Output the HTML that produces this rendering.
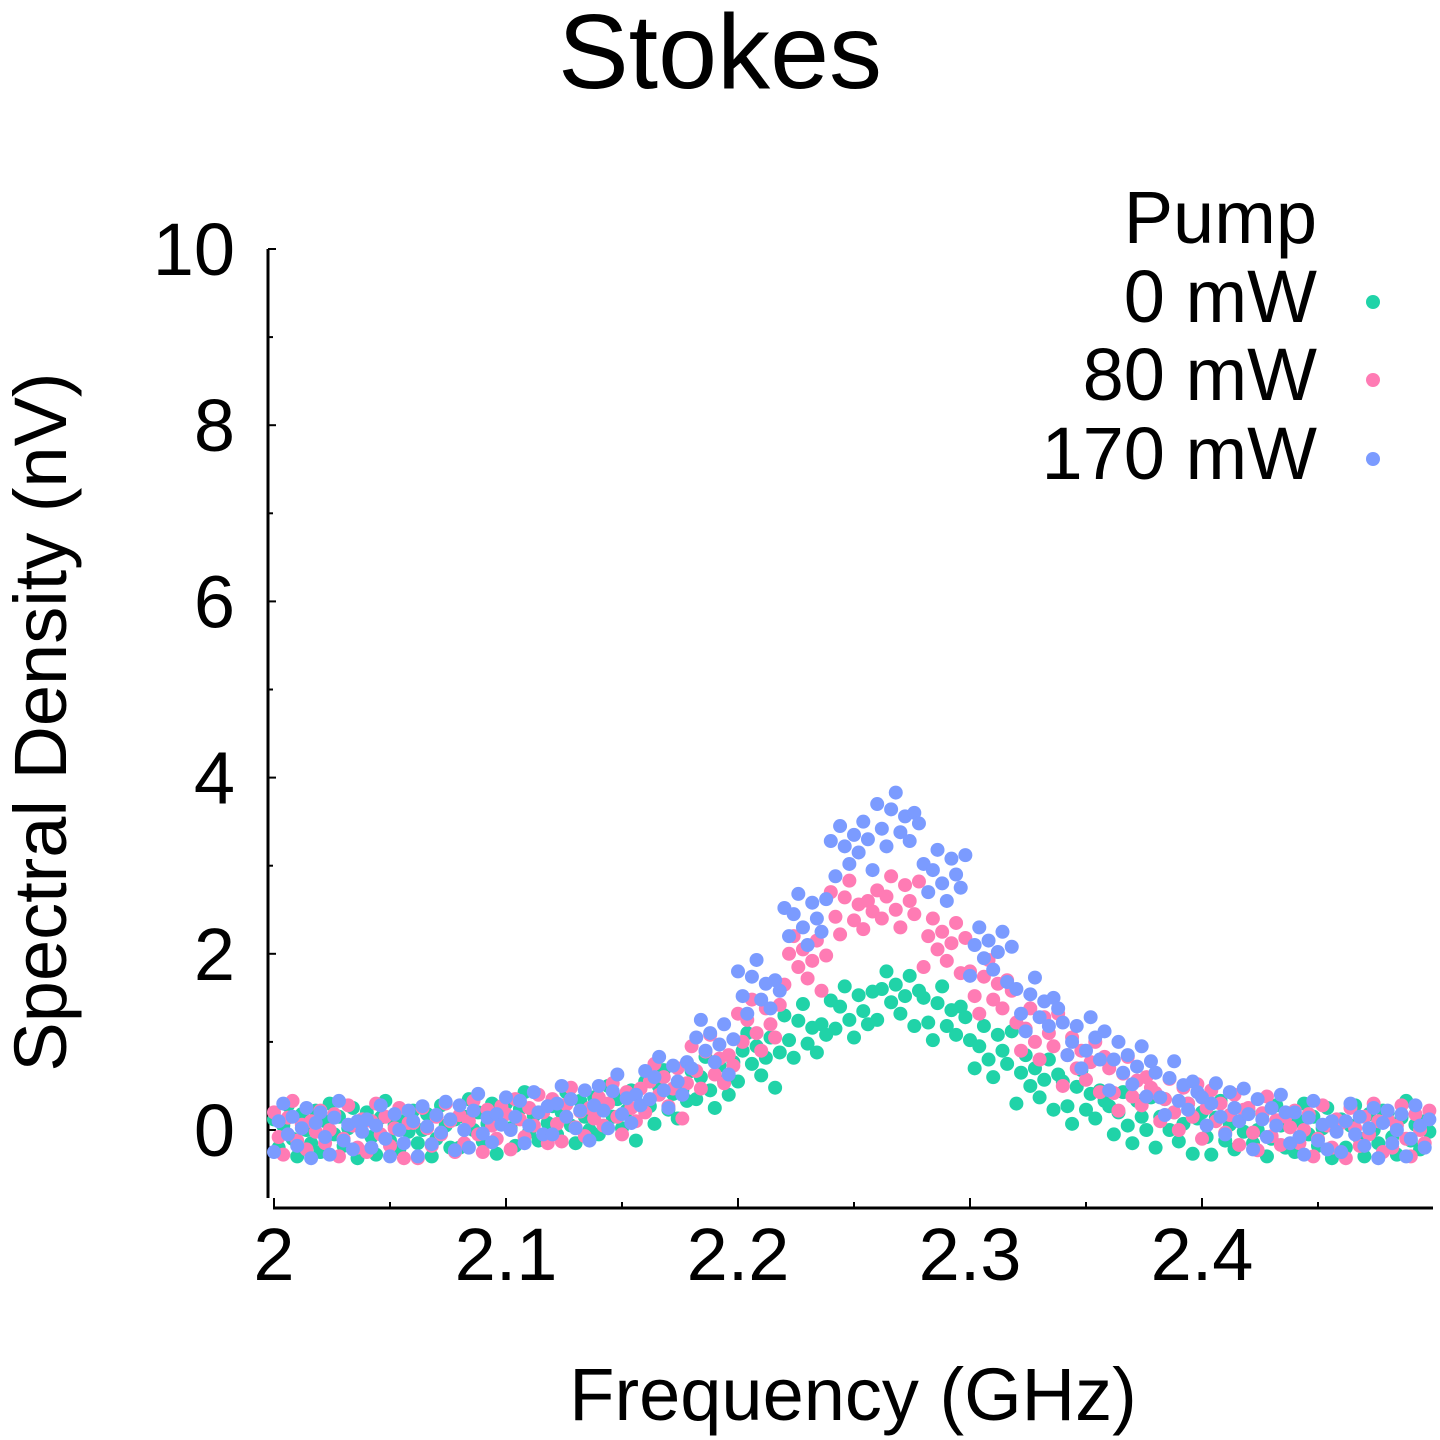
<!DOCTYPE html>
<html><head><meta charset="utf-8"><style>
html,body{margin:0;padding:0;background:#fff;}
svg{display:block;font-family:"Liberation Sans",sans-serif;}
</style></head><body>
<svg id="chart" width="1440" height="1440" viewBox="0 0 1440 1440" xmlns="http://www.w3.org/2000/svg">
<text x="720" y="88" font-size="106" text-anchor="middle">Stokes</text>
<g id="axes"></g>
<g id="points"></g>
<text transform="translate(66,722) rotate(-90)" font-size="74" text-anchor="middle">Spectral Density (nV)</text>
<text x="853" y="1420" font-size="74" text-anchor="middle">Frequency (GHz)</text>
<g>
<text x="1317" y="243" font-size="74" text-anchor="end">Pump</text>
<text x="1317" y="322" font-size="74" text-anchor="end">0 mW</text>
<circle cx="1373" cy="302" r="7" fill="#20d3a8"/>
<text x="1317" y="400" font-size="74" text-anchor="end">80 mW</text>
<circle cx="1373" cy="380" r="7" fill="#ff7bb4"/>
<text x="1317" y="479" font-size="74" text-anchor="end">170 mW</text>
<circle cx="1373" cy="459" r="7" fill="#7b9bff"/>
</g>
</svg>
<script>
const freqStart = 2.0;
const freqStep = 0.002;
const xTicks = [2, 2.1, 2.2, 2.3, 2.4];
const xTickLabels = ["2", "2.1", "2.2", "2.3", "2.4"];
const yTicks = [0, 2, 4, 6, 8, 10];
const yTickLabels = ["0", "2", "4", "6", "8", "10"];
const series0mW = [
0.12,-0.2,0.05,0.28,-0.1,-0.3,0.18,0.0,-0.15,0.22,
-0.25,0.1,0.3,-0.05,0.15,-0.18,0.02,0.25,-0.32,0.08,
0.2,-0.08,-0.28,0.14,0.33,-0.12,0.06,-0.22,0.1,-0.02,
0.22,-0.15,0.0,0.18,-0.3,-0.1,0.28,0.05,-0.2,0.12,
-0.2,0.15,0.35,0.0,0.2,-0.13,0.07,0.3,-0.27,0.13,
0.3,0.02,-0.18,0.24,0.43,-0.02,0.16,-0.12,0.2,0.08,
0.27,-0.05,0.2,0.43,0.05,-0.15,0.33,0.15,0.0,0.37,
-0.05,0.3,0.5,0.15,0.35,0.02,0.22,0.45,-0.12,0.28,
0.55,0.27,0.07,0.49,0.68,0.23,0.41,0.13,0.45,0.33,
0.67,0.35,0.6,0.83,0.45,0.25,0.73,0.55,0.4,0.77,
0.55,0.9,1.1,0.75,0.95,0.62,0.82,1.05,0.48,0.88,
1.3,1.02,0.82,1.24,1.43,0.98,1.16,0.88,1.2,1.08,
1.47,1.15,1.4,1.63,1.25,1.05,1.53,1.35,1.2,1.57,
1.25,1.6,1.8,1.45,1.65,1.32,1.52,1.75,1.18,1.58,
1.5,1.22,1.02,1.44,1.63,1.18,1.36,1.08,1.4,1.28,
1.02,0.7,0.95,1.18,0.8,0.6,1.08,0.9,0.75,1.12,
0.3,0.65,0.85,0.5,0.7,0.37,0.57,0.8,0.23,0.63,
0.55,0.27,0.07,0.49,0.68,0.23,0.41,0.13,0.45,0.33,
0.27,-0.05,0.2,0.43,0.05,-0.15,0.33,0.15,0.0,0.37,
-0.2,0.15,0.35,0.0,0.2,-0.13,0.07,0.3,-0.27,0.13,
0.2,-0.08,-0.28,0.14,0.33,-0.12,0.06,-0.22,0.1,-0.02,
0.22,-0.15,0.0,0.18,-0.3,-0.1,0.28,0.05,-0.2,0.12,
-0.25,0.1,0.3,-0.05,0.15,-0.18,0.02,0.25,-0.32,0.08,
0.12,-0.2,0.05,0.28,-0.1,-0.3,0.18,0.0,-0.15,0.22,
0.2,-0.08,-0.28,0.14,0.33,-0.12,0.06,-0.22,0.1,-0.02];
const series80mW = [
0.2,-0.08,-0.28,0.14,0.33,-0.12,0.06,-0.22,0.1,-0.02,
0.22,-0.15,0.0,0.18,-0.3,-0.1,0.28,0.05,-0.2,0.12,
-0.25,0.1,0.3,-0.05,0.15,-0.18,0.02,0.25,-0.32,0.08,
0.08,-0.32,0.25,0.02,-0.18,0.15,-0.05,0.3,0.1,-0.25,
0.17,-0.15,0.1,0.33,-0.05,-0.25,0.23,0.05,-0.1,0.27,
0.18,-0.22,0.35,0.12,-0.08,0.25,0.05,0.4,0.2,-0.15,
0.35,0.07,-0.13,0.29,0.48,0.03,0.21,-0.07,0.25,0.13,
0.37,0.05,0.3,0.53,0.15,-0.05,0.43,0.25,0.1,0.47,
0.2,0.55,0.75,0.4,0.6,0.27,0.47,0.7,0.13,0.53,
0.95,0.67,0.47,0.89,1.08,0.63,0.81,0.53,0.85,0.73,
1.32,1.0,1.25,1.48,1.1,0.9,1.38,1.2,1.05,1.42,
1.65,2.0,2.2,1.85,2.05,1.72,1.92,2.15,1.58,1.98,
2.7,2.42,2.22,2.64,2.83,2.38,2.56,2.28,2.6,2.48,
2.72,2.4,2.65,2.88,2.5,2.3,2.78,2.6,2.45,2.82,
1.85,2.2,2.4,2.05,2.25,1.92,2.12,2.35,1.78,2.18,
1.8,1.52,1.32,1.74,1.93,1.48,1.66,1.38,1.7,1.58,
1.22,0.9,1.15,1.38,1.0,0.8,1.28,1.1,0.95,1.32,
0.5,0.85,1.05,0.7,0.9,0.57,0.77,1.0,0.43,0.83,
0.7,0.42,0.22,0.64,0.83,0.38,0.56,0.28,0.6,0.48,
0.42,0.1,0.35,0.58,0.2,0.0,0.48,0.3,0.15,0.52,
-0.1,0.25,0.45,0.1,0.3,-0.03,0.17,0.4,-0.17,0.23,
0.25,-0.03,-0.23,0.19,0.38,-0.07,0.11,-0.17,0.15,0.03,
0.22,-0.15,0.0,0.18,-0.3,-0.1,0.28,0.05,-0.2,0.12,
0.08,-0.32,0.25,0.02,-0.18,0.15,-0.05,0.3,0.1,-0.25,
0.12,-0.2,0.05,0.28,-0.1,-0.3,0.18,0.0,-0.15,0.22];
const series170mW = [
-0.25,0.1,0.3,-0.05,0.15,-0.18,0.02,0.25,-0.32,0.08,
0.2,-0.08,-0.28,0.14,0.33,-0.12,0.06,-0.22,0.1,-0.02,
0.12,-0.2,0.05,0.28,-0.1,-0.3,0.18,0.0,-0.15,0.22,
0.1,-0.3,0.27,0.04,-0.16,0.17,-0.03,0.32,0.12,-0.23,
0.28,0.0,-0.2,0.22,0.41,-0.04,0.14,-0.14,0.18,0.06,
0.37,0.0,0.15,0.33,-0.15,0.05,0.43,0.2,-0.05,0.27,
-0.05,0.3,0.5,0.15,0.35,0.02,0.22,0.45,-0.12,0.28,
0.5,0.22,0.02,0.44,0.63,0.18,0.36,0.08,0.4,0.28,
0.67,0.35,0.6,0.83,0.45,0.25,0.73,0.55,0.4,0.77,
0.7,1.05,1.25,0.9,1.1,0.77,0.97,1.2,0.63,1.03,
1.8,1.52,1.32,1.74,1.93,1.48,1.66,1.38,1.7,1.58,
2.52,2.2,2.45,2.68,2.3,2.1,2.58,2.4,2.25,2.62,
3.28,2.88,3.45,3.22,3.02,3.35,3.15,3.5,3.3,2.95,
3.7,3.42,3.22,3.64,3.83,3.38,3.56,3.28,3.6,3.48,
3.02,2.7,2.95,3.18,2.8,2.6,3.08,2.9,2.75,3.12,
1.75,2.1,2.3,1.95,2.15,1.82,2.02,2.25,1.68,2.08,
1.6,1.32,1.12,1.54,1.73,1.28,1.46,1.18,1.5,1.38,
1.22,0.85,1.0,1.18,0.7,0.9,1.28,1.05,0.8,1.12,
0.45,0.8,1.0,0.65,0.85,0.52,0.72,0.95,0.38,0.78,
0.65,0.37,0.17,0.59,0.78,0.33,0.51,0.23,0.55,0.43,
0.37,0.05,0.3,0.53,0.15,-0.05,0.43,0.25,0.1,0.47,
0.18,-0.22,0.35,0.12,-0.08,0.25,0.05,0.4,0.2,-0.15,
0.2,-0.08,-0.28,0.14,0.33,-0.12,0.06,-0.22,0.1,-0.02,
-0.25,0.1,0.3,-0.05,0.15,-0.18,0.02,0.25,-0.32,0.08,
0.22,-0.15,0.0,0.18,-0.3,-0.1,0.28,0.05,-0.2,0.12];

const NS = "http://www.w3.org/2000/svg";
function xScale(v){ return 274 + (v - 2) * 2320; }
function yScale(v){ return 1130 - v * 88.1; }
function mk(tag, attrs, parent){
  const e = document.createElementNS(NS, tag);
  for (const k in attrs) e.setAttribute(k, attrs[k]);
  parent.appendChild(e);
  return e;
}
const axes = document.getElementById("axes");
let el = mk("line", {x1:268, y1:249, x2:268, y2:1198, stroke:"#000", "stroke-width":3}, axes);


el = mk("line", {x1:273, y1:1208, x2:1433, y2:1208, stroke:"#000", "stroke-width":3}, axes);


yTicks.forEach((t, i) => {
  const y = yScale(t);
  const tk = mk("line", {x1:268, y1:y, x2:276, y2:y, stroke:"#000", "stroke-width":2}, axes);
  
  
  const lb = mk("text", {x:235, y:y + 26, "font-size":74, "text-anchor":"end"}, axes);
  lb.textContent = yTickLabels[i];
  
  
  if (i < yTicks.length - 1) {
    const ym = yScale(t + 1);
    const mt = mk("line", {x1:268, y1:ym, x2:273, y2:ym, stroke:"#000", "stroke-width":2}, axes);
    
    
  }
});
xTicks.forEach((t, i) => {
  const x = xScale(t);
  const tk = mk("line", {x1:x, y1:1208, x2:x, y2:1198, stroke:"#000", "stroke-width":2}, axes);
  
  
  const lb = mk("text", {x:x, y:1280, "font-size":74, "text-anchor":"middle"}, axes);
  lb.textContent = xTickLabels[i];
  
  
  const xm = xScale(t + 0.05);
  const mt = mk("line", {x1:xm, y1:1208, x2:xm, y2:1202, stroke:"#000", "stroke-width":2}, axes);
  
  
});
const pts = document.getElementById("points");
const seriesList = [[series0mW, "#20d3a8", "point-0mw"], [series80mW, "#ff7bb4", "point-80mw"], [series170mW, "#7b9bff", "point-170mw"]];
seriesList.forEach(s => {
  s[0].forEach((v, i) => {
    const c = mk("circle", {cx:xScale(freqStart + i * freqStep), cy:yScale(v), r:7, fill:s[1]}, pts);
    
    
  });
});
</script>
</body></html>
